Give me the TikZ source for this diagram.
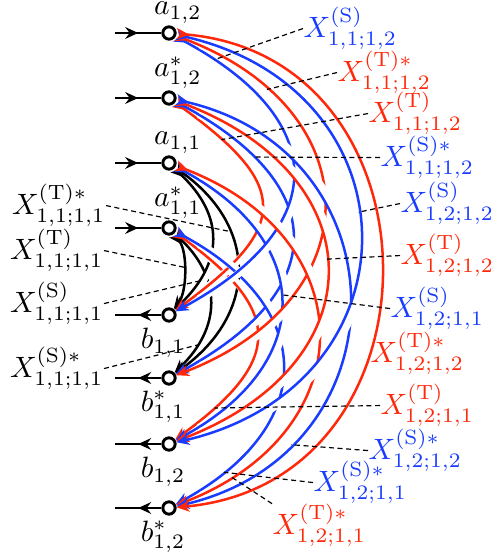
\documentclass[tikz,border=0pt]{standalone}
\usepackage{tikz}
\usetikzlibrary{arrows.meta,decorations.markings}
\definecolor{sblue}{RGB}{25,60,255}
\definecolor{tred}{RGB}{255,40,10}
\tikzset{
  port/.style={circle, draw=black, fill=white, line width=1pt, minimum size=4.2pt, inner sep=0pt},
  every label/.append style={inner sep=0.5pt},
  feed/.style={line width=0.85pt, postaction={decorate},
    decoration={markings, mark=at position 0.5 with {\arrow{Stealth[length=4.4pt,width=4pt,inset=1.5pt]}}}},
  hop/.style={line width=0.85pt,
    {Stealth[reversed,length=4.4pt,width=3.8pt,inset=1.4pt]}-{Stealth[length=4.4pt,width=3.8pt,inset=1.4pt]},
    preaction={draw=white, line width=2.6pt, -, shorten <=9pt, shorten >=9pt}},
  lead/.style={draw=black, line width=0.4pt, dash pattern=on 1.7pt off 1.2pt},
  slab/.style={text=sblue, inner sep=0pt},
  tlab/.style={text=tred, inner sep=0pt},
  klab/.style={text=black, inner sep=0pt},
}
\begin{document}
\begin{tikzpicture}[x=0.34pt,y=0.34pt]
\useasboundingbox (0,0) rectangle (497,554);
% ports: inputs on top, outputs below
\node[port, label={[xshift=3pt, label distance=0pt]above:$a_{1,2}$}] (a12) at (169,521) {};
\node[port, label={[xshift=3pt, label distance=0pt]above:$a^*_{1,2}$}] (a12s) at (169,456) {};
\node[port, label={[xshift=3pt, label distance=0pt]above:$a_{1,1}$}] (a11) at (169,391) {};
\node[port, label={[xshift=3pt, label distance=0pt]above:$a^*_{1,1}$}] (a11s) at (169,326) {};
\node[port, label={[xshift=-2pt, label distance=1.2pt]below:$b_{1,1}$}] (b11) at (169,239) {};
\node[port, label={[xshift=-2pt, label distance=1.2pt]below:$b^*_{1,1}$}] (b11s) at (169,176) {};
\node[port, label={[xshift=-2pt, label distance=1.2pt]below:$b_{1,2}$}] (b12) at (169,110) {};
\node[port, label={[xshift=-2pt, label distance=1.2pt]below:$b^*_{1,2}$}] (b12s) at (169,46) {};
\foreach \n in {a12,a12s,a11,a11s}{
  \coordinate (i\n) at ([xshift=-54*0.34pt]\n.center);
  \draw[feed] (i\n) -- (\n);}
\foreach \n in {b11,b11s,b12,b12s}{
  \coordinate (o\n) at ([xshift=-54*0.34pt]\n.center);
  \draw[feed] (\n) -- (o\n);}
% arcs, short ones first so the long ones pass over them
\foreach \s/\e/\c/\o/\l/\p/\n in {
  a11s/b11/black/52/0.76/0.45/T1111,
  a11s/b11s/black/44/1.2/0.8/Ss1111,
  a11/b11/black/44/1.25/0.8/S1111,
  a11/b11s/black/36/1.27/0.32/Ts1111,
  a11s/b12/tred/36/1.66/0.86/T1211,
  a12s/b11/tred/36/1.75/0.16/T1112,
  a12s/b11s/sblue/28.6/1.66/0.21/Ss1112,
  a11s/b12s/sblue/28.6/1.52/0.87/Ss1211,
  a11/b12/sblue/28.5/1.49/0.47/S1211,
  a12/b11/sblue/28.4/1.65/0.09/S1112,
  a12/b11s/tred/21/1.59/0.19/Ts1112,
  a11/b12s/tred/21/1.53/0.89/Ts1211,
  a12s/b12/tred/21/1.62/0.47/T1212,
  a12s/b12s/sblue/13/1.49/0.79/Ss1212,
  a12/b12/sblue/13/1.58/0.45/S1212,
  a12/b12s/tred/5/1.48/0.5/Ts1212}
  \draw[hop, draw=\c] (\s) to[out=-\o, in=\o, looseness=\l] coordinate[pos=\p] (\n) (\e);
% labels on the right
\node[slab, anchor=base west] (lS1112) at (303,516) {$X^{(\mathrm{S})}_{1,1;1,2}$};
\node[tlab, anchor=base west] (lTs1112) at (337,472) {$X^{(\mathrm{T})*}_{1,1;1,2}$};
\node[tlab, anchor=base west] (lT1112) at (368,431) {$X^{(\mathrm{T})}_{1,1;1,2}$};
\node[slab, anchor=base west] (lSs1112) at (380,387) {$X^{(\mathrm{S})*}_{1,1;1,2}$};
\node[slab, anchor=base west] (lS1212) at (400,341) {$X^{(\mathrm{S})}_{1,2;1,2}$};
\node[tlab, anchor=base west] (lT1212) at (400,289) {$X^{(\mathrm{T})}_{1,2;1,2}$};
\node[slab, anchor=base west] (lS1211) at (390,236) {$X^{(\mathrm{S})}_{1,2;1,1}$};
\node[tlab, anchor=base west] (lTs1212) at (370,191) {$X^{(\mathrm{T})*}_{1,2;1,2}$};
\node[tlab, anchor=base west] (lT1211) at (380,139) {$X^{(\mathrm{T})}_{1,2;1,1}$};
\node[slab, anchor=base west] (lSs1212) at (368,94) {$X^{(\mathrm{S})*}_{1,2;1,2}$};
\node[slab, anchor=base west] (lSs1211) at (313,62) {$X^{(\mathrm{S})*}_{1,2;1,1}$};
\node[tlab, anchor=base west] (lTs1211) at (272,19) {$X^{(\mathrm{T})*}_{1,2;1,1}$};
% labels on the left
\node[klab, anchor=base east] (lTs1111) at (106,339) {$X^{(\mathrm{T})*}_{1,1;1,1}$};
\node[klab, anchor=base east] (lT1111) at (104,294) {$X^{(\mathrm{T})}_{1,1;1,1}$};
\node[klab, anchor=base east] (lS1111) at (104,241) {$X^{(\mathrm{S})}_{1,1;1,1}$};
\node[klab, anchor=base east] (lSs1111) at (104,176) {$X^{(\mathrm{S})*}_{1,1;1,1}$};
\foreach \n in {S1112,Ts1112,T1112,Ss1112,S1212,T1212,S1211,T1211,Ss1212,Ss1211}
  \draw[lead] (l\n.west) -- (\n);
\draw[lead] (lTs1211.north west) -- (Ts1211);
\foreach \n in {Ts1111,T1111,S1111,Ss1111}
  \draw[lead] (l\n.east) -- (\n);
\end{tikzpicture}
\end{document}
